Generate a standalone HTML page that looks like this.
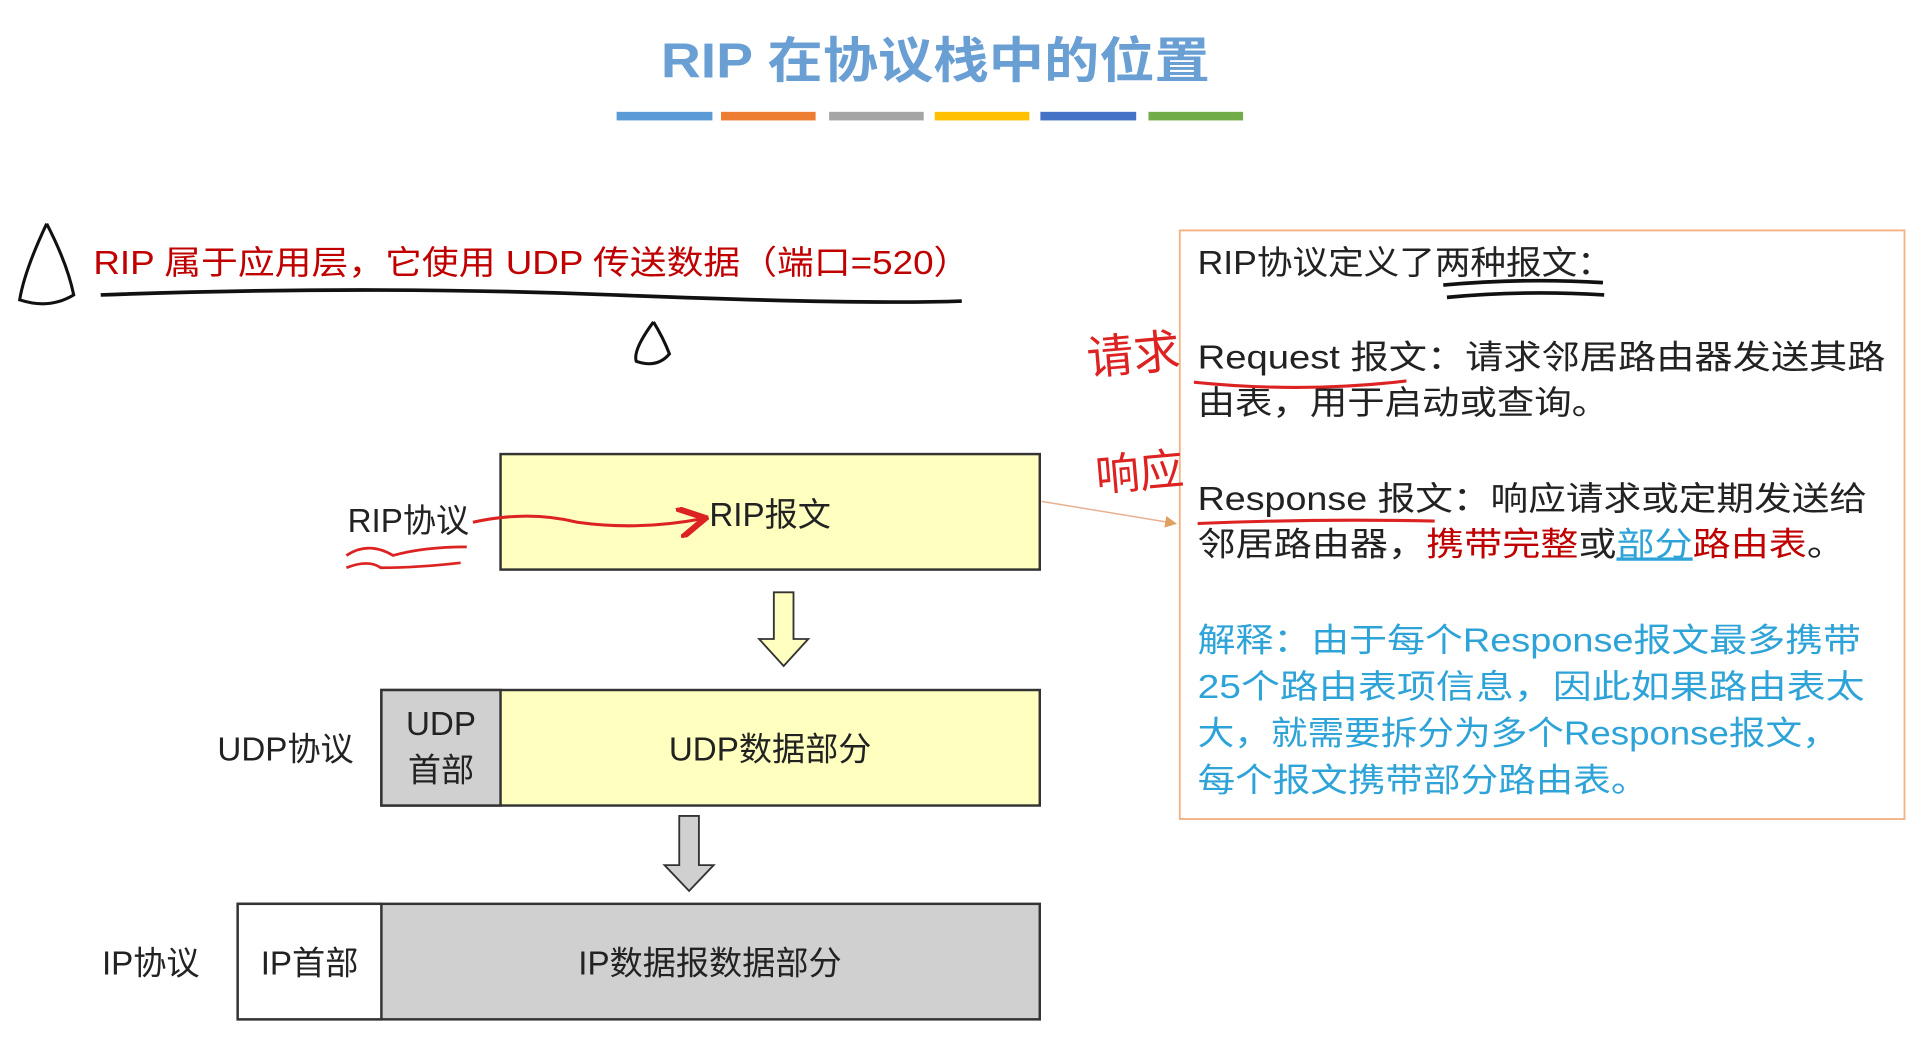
<!DOCTYPE html>
<html><head><meta charset="utf-8"><style>
html,body{margin:0;padding:0;background:#fff;width:1926px;height:1047px;overflow:hidden}
svg{display:block}
text{font-family:"Liberation Sans","Noto Sans CJK SC",sans-serif}
</style></head><body>
<svg width="1926" height="1047" viewBox="0 0 1568 852" preserveAspectRatio="none" xmlns="http://www.w3.org/2000/svg">
<defs>
<marker id="ra" markerWidth="10" markerHeight="10" refX="8" refY="5" orient="auto"><path d="M0,0 L9,5 L0,10" fill="none" stroke="#d22" stroke-width="2"/></marker>
<marker id="oa" markerWidth="8" markerHeight="8" refX="7" refY="4" orient="auto"><path d="M0,0 L8,4 L0,8 z" fill="#e0a060"/></marker>
</defs>
<text x="538" y="63" textLength="447" lengthAdjust="spacingAndGlyphs" font-size="40" font-weight="bold" fill="#6a9fd4">RIP 在协议栈中的位置</text>
<rect x="502" y="91" width="78" height="7" fill="#5b9bd5"/>
<rect x="587" y="91" width="77" height="7" fill="#ed7d31"/>
<rect x="675" y="91" width="77" height="7" fill="#a5a5a5"/>
<rect x="761" y="91" width="77" height="7" fill="#ffc000"/>
<rect x="847" y="91" width="78" height="7" fill="#4472c4"/>
<rect x="935" y="91" width="77" height="7" fill="#70ad47"/>

<text x="76" y="223" textLength="714" lengthAdjust="spacingAndGlyphs" font-size="27" fill="#c00000">RIP 属于应用层，它使用 UDP 传送数据（端口=520）</text>
<path d="M82,240 Q300,232 500,240 T783,245" fill="none" stroke="#111" stroke-width="3"/>
<path d="M38,182 Q20,220 16,244 Q40,252 60,240 Q55,215 38,182" fill="none" stroke="#111" stroke-width="2.5"/>
<path d="M532,262 Q515,285 518,294 Q535,300 545,288 Q540,275 532,262" fill="none" stroke="#111" stroke-width="2.5"/>

<rect x="960.5" y="187.5" width="590" height="479" fill="none" stroke="#f4b183" stroke-width="1.5"/>
<g font-size="27" fill="#222">
<text x="975" y="223" textLength="338" lengthAdjust="spacingAndGlyphs">RIP协议定义了两种报文：</text>
<text x="975" y="300" textLength="560" lengthAdjust="spacingAndGlyphs">Request 报文：请求邻居路由器发送其路</text>
<text x="975" y="337" textLength="335" lengthAdjust="spacingAndGlyphs">由表，用于启动或查询。</text>
<text x="975" y="415" textLength="545" lengthAdjust="spacingAndGlyphs">Response 报文：响应请求或定期发送给</text>
<text x="975" y="452" textLength="527" lengthAdjust="spacingAndGlyphs">邻居路由器，<tspan fill="#c00000">携带完整</tspan>或<tspan fill="#2ea3d8" text-decoration="underline">部分</tspan><tspan fill="#c00000">路由表</tspan>。</text>
</g>
<g font-size="27" fill="#2ea3d8">
<text x="975" y="530" textLength="540" lengthAdjust="spacingAndGlyphs">解释：由于每个Response报文最多携带</text>
<text x="975" y="568" textLength="543" lengthAdjust="spacingAndGlyphs">25个路由表项信息，因此如果路由表太</text>
<text x="975" y="606" textLength="522" lengthAdjust="spacingAndGlyphs">大，就需要拆分为多个Response报文，</text>
<text x="975" y="644" textLength="367" lengthAdjust="spacingAndGlyphs">每个报文携带部分路由表。</text>
</g>
<path d="M1175,232 Q1240,226 1305,230 M1178,242 Q1240,236 1306,240" fill="none" stroke="#111" stroke-width="3"/>
<path d="M972,311 Q1060,320 1145,310" fill="none" stroke="#d22" stroke-width="2.5"/>
<path d="M975,426 Q1070,422 1168,424" fill="none" stroke="#d22" stroke-width="2.5"/>
<text x="886" y="305" font-size="38" fill="#d22" font-family="'Noto Serif CJK SC',serif" transform="rotate(-5 886 305)">请求</text>
<text x="893" y="400" font-size="36" fill="#d22" font-family="'Noto Serif CJK SC',serif" transform="rotate(-5 893 400)">响应</text>
<line x1="848" y1="408" x2="957" y2="426" stroke="#e8b090" stroke-width="1.2" marker-end="url(#oa)"/>

<rect x="407.5" y="369.5" width="439" height="94" fill="#ffffc0" stroke="#333" stroke-width="2"/>
<text x="627" y="428" text-anchor="middle" font-size="27" fill="#222">RIP报文</text>
<text x="283" y="433" font-size="27" fill="#222">RIP协议</text>
<path d="M385,425 Q430,415 470,425 Q520,432 572,422" fill="none" stroke="#d22" stroke-width="2.5" marker-end="url(#ra)"/>
<path d="M282,452 Q300,440 320,452 Q345,445 380,445 M282,462 Q300,455 310,462 Q340,462 375,458" fill="none" stroke="#d22" stroke-width="2.2"/>

<path d="M630,482 h16 v38 h12 l-20,22 l-20,-22 h12 z" fill="#ffffc0" stroke="#333" stroke-width="1.5"/>

<rect x="310.5" y="561.5" width="536" height="94" fill="#ffffc0" stroke="#333" stroke-width="2"/>
<rect x="310.5" y="561.5" width="97" height="94" fill="#d0d0d0" stroke="#333" stroke-width="2"/>
<text x="359" y="598" text-anchor="middle" font-size="27" fill="#222">UDP</text>
<text x="359" y="636" text-anchor="middle" font-size="27" fill="#222">首部</text>
<text x="627" y="619" text-anchor="middle" font-size="27" fill="#222">UDP数据部分</text>
<text x="177" y="619" font-size="27" fill="#222">UDP协议</text>

<path d="M553,664 h16 v40 h12 l-20,21 l-20,-21 h12 z" fill="#d0d0d0" stroke="#333" stroke-width="1.5"/>

<rect x="193.5" y="735.5" width="653" height="94" fill="#d0d0d0" stroke="#333" stroke-width="2"/>
<rect x="193.5" y="735.5" width="117" height="94" fill="#fff" stroke="#333" stroke-width="2"/>
<text x="252" y="793" text-anchor="middle" font-size="27" fill="#222">IP首部</text>
<text x="578" y="793" text-anchor="middle" font-size="27" fill="#222">IP数据报数据部分</text>
<text x="83" y="793" font-size="27" fill="#222">IP协议</text>
</svg>
</body></html>
